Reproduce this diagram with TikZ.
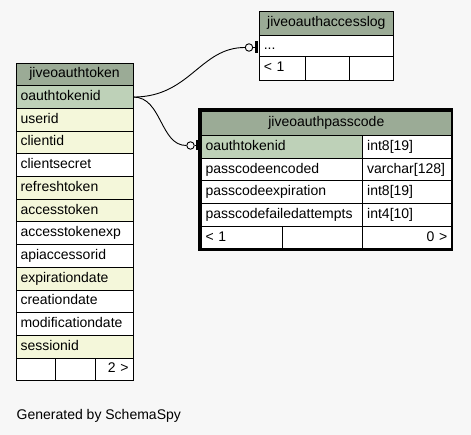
\documentclass[tikz,border=0pt]{standalone}
\usepackage{fontspec}
\usetikzlibrary{calc}
\setmainfont{Liberation Sans}
\definecolor{bg}{HTML}{F7F7F7}
\definecolor{hdr}{HTML}{9BAB96}
\definecolor{pk}{HTML}{BED1B8}
\definecolor{idx}{HTML}{F4F7DA}
\tikzset{
  cellbox/.style={draw=black, line width=0.9pt, rectangle, inner xsep=4.5pt, inner ysep=0pt,
    font=\fontsize{14}{16}\selectfont, text height=10pt, text depth=3pt},
  relline/.style={draw=black, line width=0.9pt},
  optcircle/.style={circle, draw=black, line width=0.9pt, fill=bg, minimum size=7.5pt, inner sep=0pt},
  onebar/.style={draw=black, line width=2.2pt}
}
\newcommand\cell[8]{\pgfmathsetmacro\cw{#4-9}\node[cellbox, fill=#6, minimum width=#4pt, minimum height=#5pt, text width=\cw pt, align=#7] (#1) at ({#2+#4/2},{#3+#5/2}) {#8};}
\begin{document}
\begin{tikzpicture}[x=1pt,y=-1pt]
\fill[bg] (0,0) rectangle (471,435);
\useasboundingbox (0,0) rectangle (471,435);
% jiveoauthtoken
\def\rh{22.7}
\cell{tok-h}{16}{63}{117}{\rh}{hdr}{center}{jiveoauthtoken}
\cell{tok-oauthtokenid}{16}{85.7}{117}{\rh}{pk}{left}{oauthtokenid}
\cell{tok-userid}{16}{108.4}{117}{\rh}{idx}{left}{userid}
\cell{tok-clientid}{16}{131.1}{117}{\rh}{idx}{left}{clientid}
\cell{tok-clientsecret}{16}{153.8}{117}{\rh}{white}{left}{clientsecret}
\cell{tok-refreshtoken}{16}{176.5}{117}{\rh}{idx}{left}{refreshtoken}
\cell{tok-accesstoken}{16}{199.2}{117}{\rh}{idx}{left}{accesstoken}
\cell{tok-accesstokenexp}{16}{221.9}{117}{\rh}{white}{left}{accesstokenexp}
\cell{tok-apiaccessorid}{16}{244.6}{117}{\rh}{white}{left}{apiaccessorid}
\cell{tok-expirationdate}{16}{267.3}{117}{\rh}{idx}{left}{expirationdate}
\cell{tok-creationdate}{16}{290}{117}{\rh}{white}{left}{creationdate}
\cell{tok-modificationdate}{16}{312.7}{117}{\rh}{white}{left}{modificationdate}
\cell{tok-sessionid}{16}{335.4}{117}{\rh}{idx}{left}{sessionid}
\cell{tok-f1}{16}{358.1}{39.7}{\rh}{white}{left}{}
\cell{tok-f2}{55.7}{358.1}{39.3}{\rh}{white}{left}{}
\cell{tok-f3}{95}{358.1}{38}{\rh}{white}{right}{2 >}
% jiveoauthaccesslog
\cell{log-h}{259.3}{11}{134}{24}{hdr}{center}{jiveoauthaccesslog}
\cell{log-more}{259.3}{35}{134}{21.8}{white}{left}{...}
\cell{log-f1}{259.3}{56.8}{45.7}{23.2}{white}{left}{< 1}
\cell{log-f2}{305}{56.8}{44}{23.2}{white}{left}{}
\cell{log-f3}{349}{56.8}{44.3}{23.2}{white}{left}{}
% jiveoauthpasscode
\cell{pc-h}{201}{111}{250.7}{24.7}{hdr}{center}{jiveoauthpasscode}
\cell{pc-oauthtokenid}{201}{135.7}{161.7}{22.6}{pk}{left}{oauthtokenid}
\cell{pc-oauthtokenid-t}{362.7}{135.7}{89}{22.6}{white}{left}{int8[19]}
\cell{pc-passcodeencoded}{201}{158.3}{161.7}{22.6}{white}{left}{passcodeencoded}
\cell{pc-passcodeencoded-t}{362.7}{158.3}{89}{22.6}{white}{left}{varchar[128]}
\cell{pc-passcodeexpiration}{201}{180.9}{161.7}{22.6}{white}{left}{passcodeexpiration}
\cell{pc-passcodeexpiration-t}{362.7}{180.9}{89}{22.6}{white}{left}{int8[19]}
\cell{pc-passcodefailedattempts}{201}{203.5}{161.7}{22.6}{white}{left}{passcodefailedattempts}
\cell{pc-passcodefailedattempts-t}{362.7}{203.5}{89}{22.6}{white}{left}{int4[10]}
\cell{pc-f1}{201}{226.1}{81.7}{23.2}{white}{left}{< 1}
\cell{pc-f2}{282.7}{226.1}{80}{23.2}{white}{left}{}
\cell{pc-f3}{362.7}{226.1}{89}{23.2}{white}{right}{0 >}
\node[draw=black, line width=2.6pt, minimum width=252.4pt, minimum height=139.8pt, inner sep=0pt] (pc-frame) at (325.8,179.5) {};
% relationships
\node[optcircle] (o1) at (249,47.5) {};
\coordinate (b1a) at (256.5,41.5);
\coordinate (b1b) at (256.5,53.5);
\draw[relline] (tok-oauthtokenid.east) .. controls (190,97) and (200,47.5) .. (o1.west);
\draw[relline] (o1.east) -- ($(b1a)!0.5!(b1b)$);
\draw[onebar] (b1a) -- (b1b);
\node[optcircle] (o2) at (190.5,145.5) {};
\coordinate (b2a) at (197,140.5);
\coordinate (b2b) at (197,150.5);
\draw[relline] (tok-oauthtokenid.east) .. controls (162,97) and (160,145.5) .. (o2.west);
\draw[relline] (o2.east) -- ($(b2a)!0.5!(b2b)$);
\draw[onebar] (b2a) -- (b2b);
% footer
\node[anchor=base west, inner sep=0pt, font=\fontsize{14}{16}\selectfont] (gen) at (16.5,419.3) {Generated by SchemaSpy};
\end{tikzpicture}
\end{document}
